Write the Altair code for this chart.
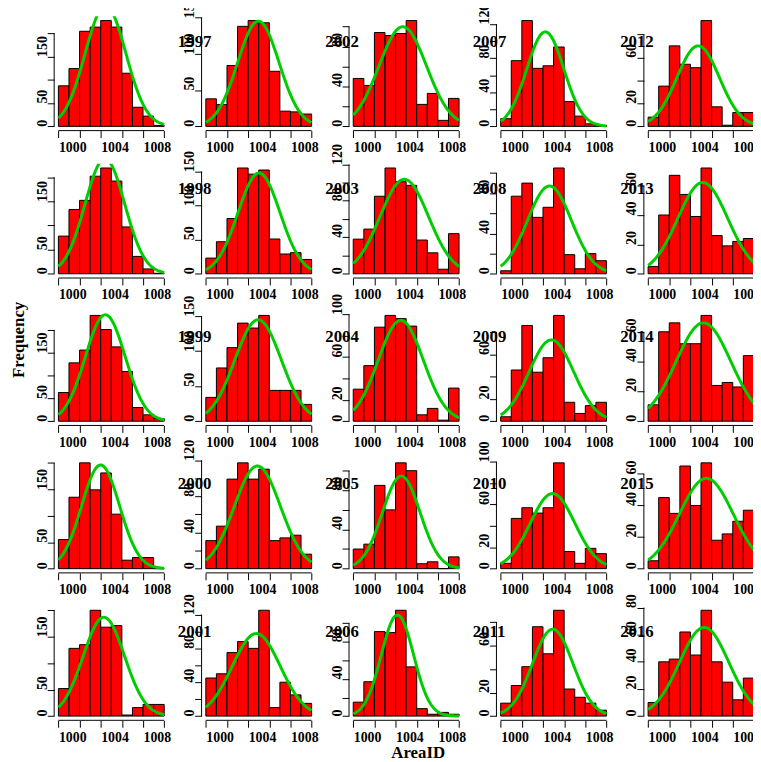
import altair as alt
import numpy as np
import pandas as pd

# ---------------- data ----------------
bin_start = list(range(1000, 1010))          # bins [1000,1001) ... [1009,1010)
x_ticks = [1000, 1002, 1004, 1006, 1008, 1010]

labels = [
    ["", "1997", "2002", "2007", "2012"],
    ["", "1998", "2003", "2008", "2013"],
    ["", "1999", "2004", "2009", "2014"],
    ["", "2000", "2005", "2010", "2015"],
    ["", "2001", "2006", "2011", "2016"],
]

p_r1c1 = [87, 124, 204, 213, 227, 213, 114, 41, 22, 2]
p_1997 = [38, 30, 84, 138, 146, 143, 76, 21, 20, 17]
p_2002 = [48, 41, 94, 91, 93, 106, 22, 33, 6, 28]
p_2007 = [9, 77, 124, 68, 71, 93, 29, 12, 3, 1]
p_2012 = [8, 35, 70, 54, 51, 92, 17, 1, 12, 12]

p_r2c1 = [78, 133, 152, 202, 219, 192, 97, 36, 10, 1]
p_1998 = [23, 47, 81, 155, 146, 152, 51, 29, 31, 21]
p_2003 = [38, 49, 85, 116, 101, 97, 37, 23, 5, 44]
p_2008 = [3, 77, 90, 56, 66, 105, 19, 5, 20, 13]
p_2013 = [5, 40, 67, 54, 39, 72, 26, 19, 22, 24]

p_r3c1 = [63, 128, 156, 232, 201, 163, 109, 30, 14, 6]
p_1999 = [34, 76, 105, 140, 133, 151, 44, 44, 44, 24]
p_2004 = [30, 52, 88, 99, 96, 89, 6, 12, 1, 31]
p_2009 = [4, 46, 86, 44, 57, 95, 17, 7, 14, 17]
p_2014 = [11, 60, 66, 52, 52, 71, 24, 26, 23, 44]

p_r4c1 = [55, 135, 200, 149, 181, 103, 16, 21, 21, 0]
p_2000 = [31, 47, 99, 117, 99, 110, 31, 34, 37, 16]
p_2005 = [20, 25, 85, 60, 108, 100, 5, 7, 0, 12]
p_2010 = [5, 47, 57, 52, 57, 99, 16, 5, 19, 14]
p_2015 = [5, 45, 35, 65, 40, 67, 18, 22, 30, 37]

p_r5c1 = [52, 128, 135, 200, 168, 171, 2, 16, 22, 22]
p_2001 = [45, 50, 75, 88, 80, 125, 10, 40, 25, 15]
p_2006 = [15, 37, 91, 90, 114, 53, 8, 2, 4, 2]
p_2011 = [11, 26, 42, 76, 53, 90, 23, 16, 11, 5]
p_2016 = [10, 40, 42, 62, 45, 78, 40, 25, 12, 28]

grid = [
    [p_r1c1, p_1997, p_2002, p_2007, p_2012],
    [p_r2c1, p_1998, p_2003, p_2008, p_2013],
    [p_r3c1, p_1999, p_2004, p_2009, p_2014],
    [p_r4c1, p_2000, p_2005, p_2010, p_2015],
    [p_r5c1, p_2001, p_2006, p_2011, p_2016],
]

# ---------------- styling ----------------
W = H = 115.6
PITCH = 148.75
FONT = "Liberation Serif"
XDOM = [999.6, 1010.4]
RED = "#FF0000"
GREEN = "#00CD00"


def pretty_unit(lo, hi, n=5):
    cell = (hi - lo) / n
    U = 10 ** np.floor(np.log10(cell))
    unit = U
    h, h5 = 1.5, 0.5 + 1.5 * 1.5
    if 2 * U - cell < h * (cell - unit):
        unit = 2 * U
        if 5 * U - cell < h5 * (cell - unit):
            unit = 5 * U
            if 10 * U - cell < h * (cell - unit):
                unit = 10 * U
    return unit


def thin(ticks, ppu, cw=6.6, gap=11.0):
    keep = [ticks[0]]
    for t in ticks[1:]:
        last = keep[-1]
        g = (t - last) * ppu - (len(str(last)) + len(str(t))) * cw / 2
        if g >= gap:
            keep.append(t)
    return keep


def make_panel(counts, label, extras=()):
    c = np.array(counts, dtype=float)
    M = c.max()
    ylo, yhi = -0.04 * M, 1.04 * M
    unit = pretty_unit(ylo, yhi)
    ticks = [int(round(t)) for t in np.arange(0, yhi + 1e-9, unit)]
    ppu = H / (yhi - ylo)
    keep = thin(ticks, ppu)

    vals = np.array(bin_start) + 1.0
    n = c.sum()
    mu = (c * vals).sum() / n
    sd = np.sqrt((c * (vals - mu) ** 2).sum() / (n - 1))

    xs = alt.Scale(domain=XDOM, nice=False, zero=False)
    ys = alt.Scale(domain=[ylo, yhi], nice=False, zero=False)
    common = dict(title=None, domain=False, grid=False, ticks=True,
                  tickColor="black", tickSize=7, tickWidth=1,
                  labelFont=FONT, labelFontWeight="bold", labelFontSize=14,
                  labelColor="black", labelOverlap=False, labelFlush=False,
                  labelBound=False, format="d")
    xaxis = alt.Axis(values=x_ticks,
                     labelExpr="datum.value % 4 == 0 ? datum.label : ''",
                     labelAlign="left", labelBaseline="top", labelPadding=3,
                     **common)
    yaxis = alt.Axis(values=ticks,
                     labelExpr=f"indexof({keep}, datum.value) >= 0 ? datum.label : ''",
                     labelAngle=270, labelAlign="left",
                     labelBaseline="alphabetic", labelPadding=1, **common)

    df = pd.DataFrame({"x": bin_start, "x2": [b + 1 for b in bin_start],
                       "y": counts, "y2": [0] * len(counts)})
    bars = alt.Chart(df).mark_rect(fill=RED, stroke="black", strokeWidth=1).encode(
        x=alt.X("x:Q", scale=xs, axis=xaxis), x2="x2:Q",
        y=alt.Y("y:Q", scale=ys, axis=yaxis), y2="y2:Q")

    curve = alt.Chart(alt.sequence(1000, 1010.0001, 0.05, as_="x")).transform_calculate(
        y=f"{n:.3f}*exp(-0.5*pow((datum.x-{mu:.5f})/{sd:.5f},2))/({sd:.5f}*sqrt(2*PI))"
    ).mark_line(color=GREEN, strokeWidth=3, clip=True).encode(
        x=alt.X("x:Q", scale=xs, axis=xaxis), y=alt.Y("y:Q", scale=ys, axis=yaxis))

    xrule = alt.Chart(pd.DataFrame({"x": [1000], "x2": [1010]})).mark_rule(
        color="black", strokeWidth=1).encode(
        x=alt.X("x:Q", scale=xs, axis=xaxis), x2="x2:Q", y=alt.value(H))
    yrule = alt.Chart(pd.DataFrame({"y": [0], "y2": [ticks[-1]]})).mark_rule(
        color="black", strokeWidth=1).encode(
        x=alt.value(0), y=alt.Y("y:Q", scale=ys, axis=yaxis), y2="y2:Q")

    layers = [bars, curve, xrule, yrule]
    if label:
        layers.append(alt.Chart(pd.DataFrame({"t": [label]})).mark_text(
            font=FONT, fontWeight="bold", fontSize=17, align="left",
            baseline="alphabetic", color="black").encode(
            x=alt.value(-24), y=alt.value(31), text="t:N"))
    layers.extend(extras)
    return alt.layer(*layers).properties(width=W, height=H)


freq_txt = alt.Chart(pd.DataFrame({"t": ["Frequency"]})).mark_text(
    font=FONT, fontWeight="bold", fontSize=17, align="center",
    baseline="alphabetic", angle=270, color="black").encode(
    x=alt.value(-31), y=alt.value(29), text="t:N")
area_txt = alt.Chart(pd.DataFrame({"t": ["AreaID"]})).mark_text(
    font=FONT, fontWeight="bold", fontSize=17, align="center",
    baseline="alphabetic", color="black").encode(
    x=alt.value(70), y=alt.value(H + 38), text="t:N")

panels = []
for r in range(5):
    for cidx in range(5):
        extras = []
        if r == 2 and cidx == 0:
            extras = [freq_txt]
        if r == 4 and cidx == 2:
            extras = [area_txt]
        panels.append(make_panel(grid[r][cidx], labels[r][cidx], extras))

chart = alt.concat(*panels, columns=5, spacing=PITCH - W, bounds="flush").properties(
    padding={"top": -16, "left": 0.7, "right": -8, "bottom": 0},
    background="white",
).configure_view(stroke=None)

chart.save("out.html", embed_options={"renderer": "svg", "actions": False})
